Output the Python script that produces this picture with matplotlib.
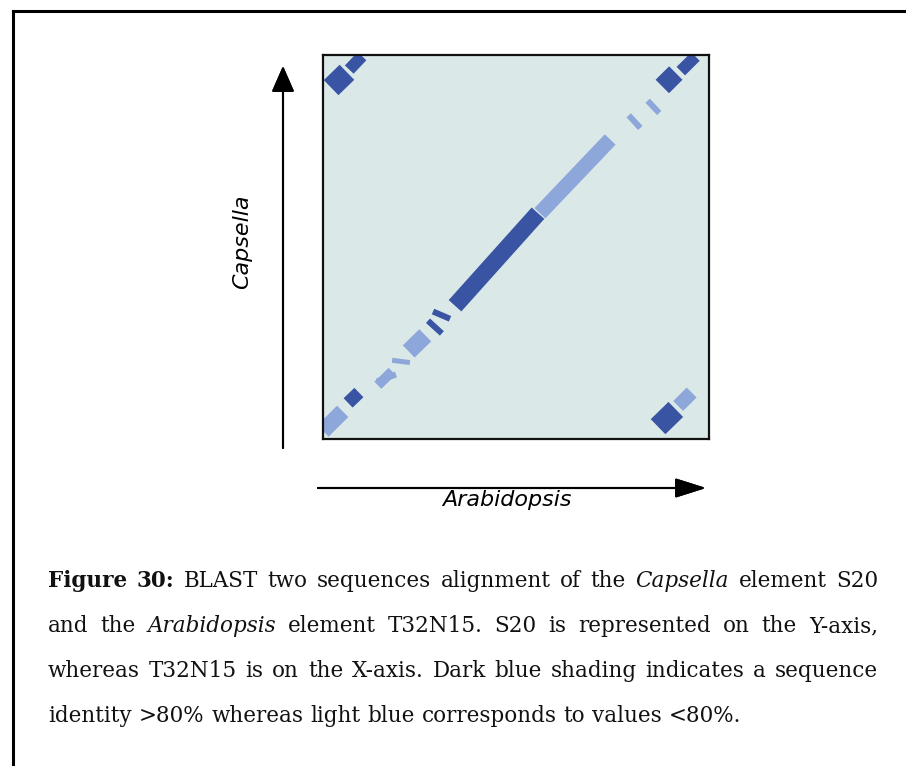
import matplotlib.pyplot as plt
from matplotlib.lines import Line2D
from matplotlib.transforms import IdentityTransform

# dot plot bands, relative position along each sequence (0 = start, 1 = end)
# dark blue: identity > 80%
dark_x0 = [0.342, 0.879, 0.927, 0.021, 0.068, 0.868, 0.065, 0.272, 0.285]
dark_y0 = [0.347, 0.918, 0.958, 0.915, 0.962, 0.032, 0.094, 0.308, 0.332]
dark_x1 = [0.557, 0.914, 0.965, 0.062, 0.101, 0.914, 0.093, 0.308, 0.329]
dark_y1 = [0.588, 0.953, 0.996, 0.955, 0.997, 0.077, 0.121, 0.275, 0.313]
dark_band = [17, 19, 12, 21, 12, 21, 13, 6, 6]

# light blue: identity < 80%
light_x0 = [0.562, 0.792, 0.841, 0.920, 0.000, 0.142, 0.140, 0.179, 0.222]
light_y0 = [0.588, 0.843, 0.881, 0.086, 0.021, 0.140, 0.150, 0.205, 0.228]
light_x1 = [0.744, 0.822, 0.871, 0.955, 0.051, 0.179, 0.189, 0.225, 0.265]
light_y1 = [0.780, 0.810, 0.849, 0.121, 0.072, 0.176, 0.168, 0.199, 0.270]
light_band = [15, 6, 6, 14, 16, 10, 6, 5, 17]

caption_lines = [
    "Figure 30: BLAST two sequences alignment of the Capsella element S20",
    "and the Arabidopsis element T32N15. S20 is represented on the Y-axis,",
    "whereas T32N15 is on the X-axis. Dark blue shading indicates a sequence",
    "identity >80% whereas light blue corresponds to values <80%.",
]
bold_words = {"Figure", "30:"}
italic_words = {"Capsella", "Arabidopsis"}

W, H = 906, 766
fig = plt.figure(figsize=(W / 100, H / 100), dpi=100)
fig.patch.set_facecolor("white")

ax = fig.add_axes([323 / W, (H - 439) / H, 386 / W, 384 / H])
ax.set_facecolor("#dbe8e8")
ax.set_xlim(0, 1)
ax.set_ylim(0, 1)
ax.set_xticks([])
ax.set_yticks([])
for sp in ax.spines.values():
    sp.set_linewidth(1.6)
    sp.set_color("#111111")

px = 72 / 100
for x0, y0, x1, y1, b in zip(light_x0, light_y0, light_x1, light_y1, light_band):
    ax.plot([x0, x1], [y0, y1], color="#8ea7da", lw=b * px, solid_capstyle="butt")
for x0, y0, x1, y1, b in zip(dark_x0, dark_y0, dark_x1, dark_y1, dark_band):
    ax.plot([x0, x1], [y0, y1], color="#3a54a4", lw=b * px, solid_capstyle="butt")

# axis arrows
fig.add_artist(plt.annotate("", xy=(283, H - 66), xytext=(283, H - 448),
                            xycoords="figure pixels", textcoords="figure pixels",
                            arrowprops=dict(arrowstyle="-|>,head_length=0.8,head_width=0.35",
                                            mutation_scale=20, lw=1.5, color="black",
                                            shrinkA=0, shrinkB=0)))
fig.add_artist(plt.annotate("", xy=(706, H - 488), xytext=(318, H - 488),
                            xycoords="figure pixels", textcoords="figure pixels",
                            arrowprops=dict(arrowstyle="-|>,head_length=0.95,head_width=0.3",
                                            mutation_scale=20, lw=1.5, color="black",
                                            shrinkA=0, shrinkB=0)))

fig.text(242 / W, (H - 242) / H, "Capsella", rotation=90, style="italic",
         fontsize=16, ha="center", va="center")
fig.text(507 / W, (H - 500) / H, "Arabidopsis", style="italic",
         fontsize=16, ha="center", va="center")

# frame lines (top and left)
fig.add_artist(Line2D([13 / W, 1], [(H - 11) / H] * 2, transform=fig.transFigure,
                      color="black", lw=2.2))
fig.add_artist(Line2D([13 / W] * 2, [0, (H - 11) / H], transform=fig.transFigure,
                      color="black", lw=2.2))

# justified caption
left, right = 48, 878
baselines = [587, 632, 677, 722]
renderer = fig.canvas.get_renderer()
for i, line in enumerate(caption_lines):
    words = line.split(" ")
    texts = []
    for w in words:
        kw = {}
        if w in bold_words:
            kw["weight"] = "bold"
        if w in italic_words:
            kw["style"] = "italic"
        t = fig.text(0, H - baselines[i], w, transform=IdentityTransform(),
                     family="DejaVu Serif", fontsize=15.5, va="baseline", ha="left",
                     color="#111111", **kw)
        texts.append(t)
    widths = [t.get_window_extent(renderer).width for t in texts]
    if i < len(caption_lines) - 1:
        gap = (right - left - sum(widths)) / (len(words) - 1)
    else:
        gap = 7
    x = left
    for t, wdt in zip(texts, widths):
        t.set_x(x)
        x += wdt + gap

fig.savefig("out.png", dpi=100)
